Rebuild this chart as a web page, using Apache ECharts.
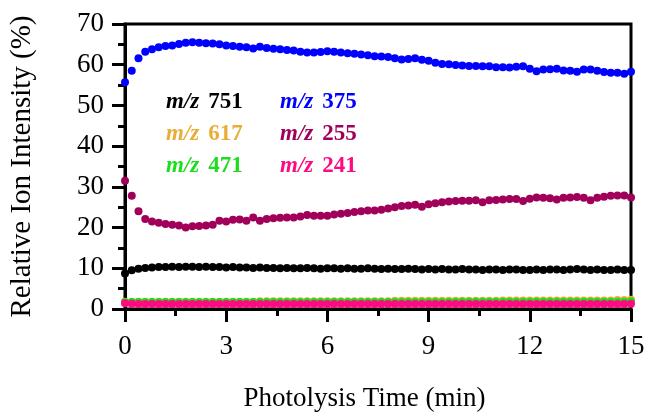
<!DOCTYPE html>
<html>
<head>
<meta charset="utf-8">
<script src="https://cdn.jsdelivr.net/npm/echarts@6/dist/echarts.min.js"></script>
<style>
  html, body { margin: 0; padding: 0; background: #fff; }
  #chart { width: 648px; height: 417px; }
</style>
</head>
<body>
<div id="chart"></div>
<script>
var time = [0, 0.2, 0.4, 0.6, 0.8, 1.0, 1.2, 1.4, 1.6, 1.8,
    2.0, 2.2, 2.4, 2.6, 2.8, 3.0, 3.2, 3.4, 3.6, 3.8,
    4.0, 4.2, 4.4, 4.6, 4.8, 5.0, 5.2, 5.4, 5.6, 5.8,
    6.0, 6.2, 6.4, 6.6, 6.8, 7.0, 7.2, 7.4, 7.6, 7.8,
    8.0, 8.2, 8.4, 8.6, 8.8, 9.0, 9.2, 9.4, 9.6, 9.8,
    10.0, 10.2, 10.4, 10.6, 10.8, 11.0, 11.2, 11.4, 11.6, 11.8,
    12.0, 12.2, 12.4, 12.6, 12.8, 13.0, 13.2, 13.4, 13.6, 13.8,
    14.0, 14.2, 14.4, 14.6, 14.8, 15.0];

var mz751 = [8.7, 9.5, 9.9, 10.1, 10.2, 10.3, 10.3, 10.4, 10.3, 10.4,
    10.4, 10.3, 10.4, 10.3, 10.3, 10.2, 10.3, 10.2, 10.2, 10.1,
    10.2, 10.1, 10.1, 10.0, 10.1, 10.0, 10.0, 10.1, 10.0, 9.9,
    10.0, 10.0, 9.9, 10.0, 9.9, 9.9, 10.0, 9.9, 9.8, 9.9,
    9.8, 9.8, 9.9, 9.8, 9.7, 9.8, 9.7, 9.8, 9.7, 9.7,
    9.8, 9.7, 9.7, 9.6, 9.7, 9.7, 9.6, 9.7, 9.7, 9.6,
    9.6, 9.7, 9.6, 9.7, 9.7, 9.6, 9.7, 9.8, 9.7, 9.6,
    9.7, 9.6, 9.6, 9.7, 9.6, 9.6];

var mz375 = [55.7, 58.5, 61.6, 63.2, 63.8, 64.3, 64.6, 64.7, 65.1, 65.4,
    65.5, 65.4, 65.3, 65.2, 65.0, 64.7, 64.6, 64.4, 64.3, 64.0,
    64.4, 64.1, 63.9, 63.8, 63.6, 63.5, 63.2, 63.0, 63.0, 63.1,
    63.3, 63.2, 63.0, 62.8, 62.7, 62.5, 62.3, 62.1, 62.0, 61.9,
    61.6, 61.3, 61.4, 61.6, 61.2, 61.0, 60.5, 60.2, 60.1, 59.9,
    59.8, 59.7, 59.7, 59.6, 59.6, 59.4, 59.4, 59.3, 59.5, 59.6,
    59.0, 58.4, 58.8, 58.9, 59.0, 58.6, 58.5, 58.3, 58.8, 58.8,
    58.5, 58.2, 58.0, 58.0, 57.8, 58.3];

var mz617 = [1.8, 1.8, 1.8, 1.8, 1.8, 1.8, 1.8, 1.8, 1.8, 1.8,
    1.8, 1.8, 1.8, 1.8, 1.8, 1.8, 1.8, 1.8, 1.8, 1.8,
    1.9, 1.9, 1.9, 1.9, 1.9, 1.9, 1.9, 1.9, 1.9, 1.9,
    1.9, 1.9, 1.9, 1.9, 1.9, 1.9, 1.9, 1.9, 1.9, 1.9,
    2.0, 2.0, 2.0, 2.0, 2.0, 2.0, 2.0, 2.0, 2.0, 2.0,
    2.0, 2.0, 2.0, 2.0, 2.0, 2.0, 2.1, 2.1, 2.1, 2.1,
    2.1, 2.1, 2.1, 2.1, 2.1, 2.1, 2.1, 2.1, 2.1, 2.1,
    2.1, 2.1, 2.1, 2.2, 2.2, 2.3];

var mz255 = [31.5, 27.8, 24.0, 22.1, 21.5, 21.2, 20.9, 20.7, 20.5, 20.0,
    20.3, 20.4, 20.5, 20.7, 21.7, 21.5, 21.9, 22.0, 21.7, 22.5,
    21.7, 22.1, 22.3, 22.4, 22.5, 22.5, 22.7, 23.1, 22.9, 22.9,
    22.9, 23.2, 23.4, 23.6, 23.8, 24.0, 24.2, 24.2, 24.4, 24.7,
    25.0, 25.3, 25.4, 25.6, 25.1, 25.7, 26.0, 26.2, 26.4, 26.5,
    26.6, 26.6, 26.7, 26.2, 26.7, 26.8, 26.9, 27.0, 27.0, 26.5,
    27.1, 27.4, 27.3, 27.2, 26.9, 27.3, 27.4, 27.5, 27.3, 26.7,
    27.3, 27.6, 27.8, 27.9, 27.9, 27.4];

var mz471 = [1.7, 1.7, 1.7, 1.7, 1.7, 1.7, 1.7, 1.7, 1.7, 1.7,
    1.7, 1.7, 1.7, 1.7, 1.7, 1.7, 1.7, 1.7, 1.7, 1.7,
    1.7, 1.7, 1.7, 1.7, 1.7, 1.7, 1.7, 1.7, 1.7, 1.7,
    1.7, 1.7, 1.7, 1.7, 1.7, 1.7, 1.7, 1.7, 1.7, 1.7,
    1.7, 1.7, 1.7, 1.7, 1.7, 1.7, 1.7, 1.7, 1.7, 1.7,
    1.8, 1.8, 1.8, 1.8, 1.8, 1.8, 1.8, 1.8, 1.8, 1.8,
    1.8, 1.8, 1.8, 1.8, 1.8, 1.8, 1.8, 1.8, 1.8, 1.8,
    1.8, 1.8, 1.8, 1.8, 1.8, 1.9];

var mz241 = [1.4, 1.3, 1.2, 1.2, 1.2, 1.2, 1.2, 1.2, 1.2, 1.2,
    1.2, 1.2, 1.2, 1.2, 1.2, 1.2, 1.2, 1.2, 1.2, 1.2,
    1.2, 1.2, 1.2, 1.2, 1.2, 1.2, 1.2, 1.2, 1.2, 1.2,
    1.2, 1.2, 1.2, 1.2, 1.2, 1.2, 1.2, 1.2, 1.2, 1.2,
    1.2, 1.2, 1.2, 1.2, 1.2, 1.2, 1.2, 1.2, 1.2, 1.2,
    1.2, 1.2, 1.2, 1.2, 1.2, 1.2, 1.2, 1.2, 1.2, 1.2,
    1.2, 1.2, 1.2, 1.2, 1.2, 1.2, 1.2, 1.2, 1.2, 1.2,
    1.2, 1.2, 1.2, 1.2, 1.2, 1.3];

// legend labels (left column, right column)
var labels = ['751', '617', '471', '375', '255', '241'];
var colors = ['#000000', '#E8AE38', '#1EDC1E', '#0000FF', '#A0005A', '#FF0A80'];
var values = [mz751, mz617, mz471, mz375, mz255, mz241];

var font = '"Liberation Serif", "Times New Roman", serif';

function pairs(ys) {
    var out = [];
    for (var i = 0; i < time.length; i++) out.push([time[i], ys[i]]);
    return out;
}

/* ---------- chart ---------- */

var chart = echarts.init(document.getElementById('chart'), null, {renderer: 'canvas'});

// draw order: black, blue, purple, orange, green, pink on top
var order = [0, 3, 4, 1, 2, 5];
var series = order.map(function (k) {
    return {
        name: 'm/z ' + labels[k],
        type: 'scatter',
        data: pairs(values[k]),
        symbol: 'circle',
        symbolSize: 8,
        itemStyle: {color: colors[k], opacity: 1},
        silent: true,
        animation: false
    };
});

var graphics = labels.map(function (lab, k) {
    var col = k < 3 ? 0 : 1;
    var row = k % 3;
    return {
        type: 'text',
        left: col === 0 ? 166 : 280,
        top: 91 + row * 32,
        style: {
            text: '{i|m/z}{s| }{b|' + lab + '}',
            fill: colors[k],
            rich: {
                i: {fontFamily: font, fontSize: 23, fontWeight: 'bold', fontStyle: 'italic', fill: colors[k]},
                s: {fontFamily: font, fontSize: 23, width: 9},
                b: {fontFamily: font, fontSize: 23, fontWeight: 'bold', fill: colors[k]}
            }
        }
    };
});

var option = {
    backgroundColor: '#fff',
    animation: false,
    textStyle: {fontFamily: font},
    grid: {
        left: 124, right: 17, top: 24, bottom: 106,
        show: true, borderColor: '#000', borderWidth: 3, backgroundColor: 'transparent'
    },
    xAxis: {
        type: 'value',
        min: 0, max: 15, interval: 3,
        name: 'Photolysis Time (min)',
        nameLocation: 'middle',
        nameGap: 76,
        nameTextStyle: {fontFamily: font, fontSize: 27, color: '#000', padding: [0, 27, 0, 0]},
        axisLine: {show: true, lineStyle: {color: '#000', width: 3}},
        axisTick: {show: true, inside: false, length: 13, lineStyle: {color: '#000', width: 3}},
        minorTick: {show: true, splitNumber: 2, length: 7, lineStyle: {color: '#000', width: 3}},
        axisLabel: {fontFamily: font, fontSize: 27, color: '#000', margin: 24},
        splitLine: {show: false}
    },
    yAxis: {
        type: 'value',
        min: 0, max: 70, interval: 10,
        name: 'Relative Ion Intensity (%)',
        nameLocation: 'middle',
        nameGap: 88,
        nameTextStyle: {fontFamily: font, fontSize: 29, color: '#000'},
        axisLine: {show: true, lineStyle: {color: '#000', width: 3}},
        axisTick: {show: true, inside: false, length: 13, lineStyle: {color: '#000', width: 3}},
        minorTick: {show: true, splitNumber: 2, length: 7, lineStyle: {color: '#000', width: 3}},
        axisLabel: {fontFamily: font, fontSize: 27, color: '#000', margin: 21},
        splitLine: {show: false}
    },
    graphic: graphics,
    series: series
};

chart.setOption(option);
</script>
</body>
</html>
